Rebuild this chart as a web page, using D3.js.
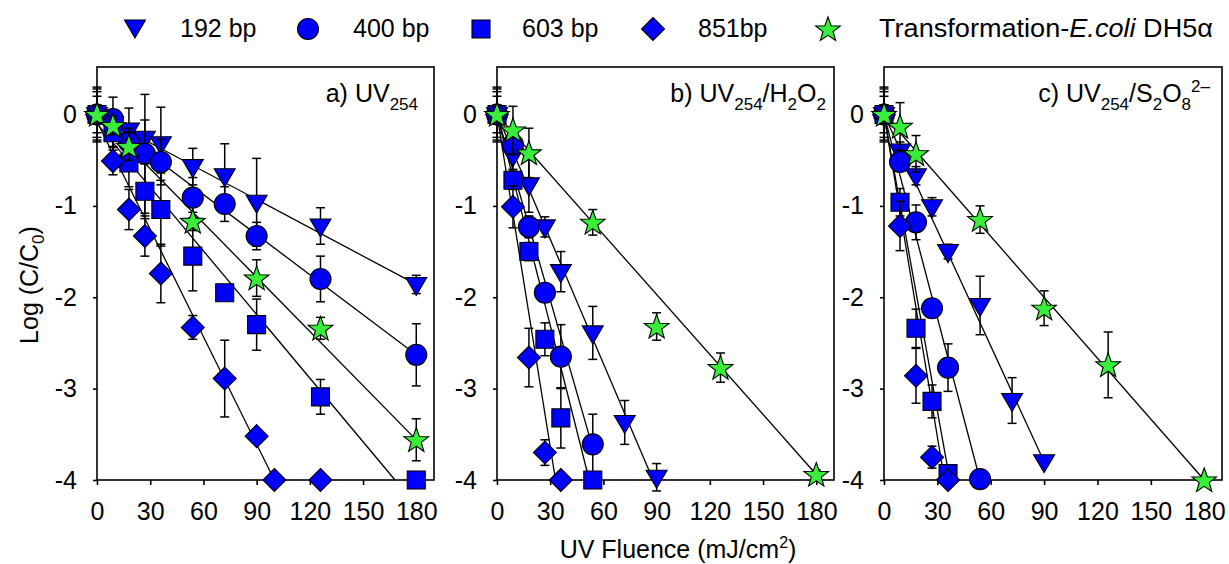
<!DOCTYPE html>
<html>
<head>
<meta charset="utf-8">
<script src="https://cdn.jsdelivr.net/npm/d3@7"></script>
<style>
  html, body { margin: 0; padding: 0; background: #fff; }
  svg { display: block; font-family: "Liberation Sans", Arial, sans-serif; }
</style>
</head>
<body>
<svg id="chart" width="1229" height="564"></svg>
<script>
// ---------------- DATA ----------------
const seriesNames = ["192 bp", "400 bp", "603 bp", "851bp", "Transformation-E.coli DH5α"];
const xTicks = [0, 30, 60, 90, 120, 150, 180];
const yTicks = [0, -1, -2, -3, -4];

// UV fluence (mJ/cm2) at which samples were taken
const fluence = [0, 9, 18, 27, 36, 54, 72, 90, 126, 180];
const fluenceEcoli = [0, 9, 18, 54, 90, 126, 180];
const fluence851a = [0, 9, 18, 27, 36, 54, 72, 90, 100, 126];

// Panel a) UV254 : log(C/C0) and error
const a192 = [0, -0.10, -0.17, -0.26, -0.32, -0.57, -0.67, -0.96, -1.22, -1.86];
const a192err = [0.25, 0.29, 0.24, 0.2, 0.4, 0.2, 0.35, 0.48, 0.2, 0.1];
const a400 = [0, -0.05, -0.30, -0.43, -0.52, -0.91, -0.98, -1.33, -1.80, -2.63];
const a400err = [0.3, 0.1, 0.15, 0.65, 0.25, 0.22, 0.19, 0.15, 0.25, 0.34];
const a603 = [0, -0.20, -0.53, -0.84, -1.04, -1.55, -1.95, -2.30, -3.09, -4.0];
const a603err = [0.2, 0.15, 0.26, 0.3, 0.4, 0.38, 0.05, 0.28, 0.19, 0];
const a851 = [0, -0.51, -1.04, -1.33, -1.74, -2.33, -2.89, -3.52, -4.0, -4.0];
const a851err = [0.28, 0.15, 0.22, 0.22, 0.32, 0.13, 0.42, 0.05, 0, 0];
const aEcoli = [0, -0.12, -0.35, -1.17, -1.79, -2.34, -3.56];
const aEcolierr = [0.1, 0.1, 0.15, 0.1, 0.2, 0.12, 0.23];

// Panel b) UV254/H2O2
const b192 = [0, -0.45, -0.77, -1.23, -1.72, -2.39, -3.37, -3.97];
const b192err = [0.25, 0.15, 0.3, 0.11, 0.22, 0.29, 0.24, 0.15];
const b400 = [0, -0.33, -1.23, -1.95, -2.65, -3.61];
const b400err = [0.3, 0.1, 0.12, 0.1, 0.35, 0.33];
const b603 = [0, -0.72, -1.50, -2.46, -3.32, -4.0];
const b603err = [0.2, 0.1, 0.1, 0.18, 0.33, 0];
const b851 = [0, -1.01, -2.66, -3.70, -4.0];
const b851err = [0.28, 0.23, 0.32, 0.14, 0];
const bEcoli = [0, -0.17, -0.42, -1.18, -2.32, -2.77, -3.94];
const bEcolierr = [0.1, 0.26, 0.27, 0.14, 0.15, 0.16, 0.05];

// Panel c) UV254/S2O8 2-
const c192 = [0, -0.40, -0.67, -1.01, -1.50, -2.09, -3.13, -3.80];
const c192err = [0.25, 0.1, 0.1, 0.1, 0.08, 0.32, 0.25, 0];
const c400 = [0, -0.52, -1.18, -2.12, -2.77, -3.99];
const c400err = [0.3, 0.1, 0.19, 0.05, 0.26, 0];
const c603 = [0, -0.96, -2.34, -3.14, -3.93];
const c603err = [0.2, 0.15, 0.21, 0.18, 0];
const c851 = [0, -1.22, -2.86, -3.75, -4.0];
const c851err = [0.28, 0.27, 0.3, 0.12, 0];
const cEcoli = [0, -0.13, -0.43, -1.15, -2.12, -2.74, -4.0];
const cEcolierr = [0.1, 0.26, 0.2, 0.15, 0.19, 0.36, 0];

// Linear fits (intercept, slope) per series, order: 192, 400, 603, 851, E.coli
const aFitIntercept = [0, 0, -0.10, -0.08, 0];
const aFitSlope = [-0.01033, -0.01461, -0.02321, -0.0392, -0.01978];
const bFitIntercept = [0, 0, 0, 0, 0];
const bFitSlope = [-0.04545, -0.0676, -0.0769, -0.1212, -0.02189];
const cFitIntercept = [0, 0, 0, 0, 0];
const cFitSlope = [-0.04222, -0.0741, -0.1081, -0.1176, -0.02222];

// ---------------- BUILD ----------------
const panels = [
  { key: "a", title: [["a) UV", 0], ["254", 1]],
    x0: 97, x1: 434,
    series: [[fluence, a192, a192err], [fluence, a400, a400err], [fluence, a603, a603err],
             [fluence851a, a851, a851err], [fluenceEcoli, aEcoli, aEcolierr]],
    fitI: aFitIntercept, fitS: aFitSlope, titleRight: 16 },
  { key: "b", title: [["b) UV", 0], ["254", 1], ["/H", 0], ["2", 1], ["O", 0], ["2", 1]],
    x0: 497, x1: 834,
    series: [[fluence, b192, b192err], [fluence, b400, b400err], [fluence, b603, b603err],
             [fluence, b851, b851err], [fluenceEcoli, bEcoli, bEcolierr]],
    fitI: bFitIntercept, fitS: bFitSlope, titleRight: 8 },
  { key: "c", title: [["c) UV", 0], ["254", 1], ["/S", 0], ["2", 1], ["O", 0], ["8", 1], ["2\u2013", 2]],
    x0: 884, x1: 1222,
    series: [[fluence, c192, c192err], [fluence, c400, c400err], [fluence, c603, c603err],
             [fluence, c851, c851err], [fluenceEcoli, cEcoli, cEcolierr]],
    fitI: cFitIntercept, fitS: cFitSlope, titleRight: 12 }
];

const BLUE = "#0000ff", GREEN = "#39ee39";
const fills = [BLUE, BLUE, BLUE, BLUE, GREEN];
const shapes = ["tri", "circle", "square", "diamond", "star"];

function shapePath(t) {
  if (t === "tri") return "M-10.5,-7L10.5,-7L0,11Z";
  if (t === "circle") { const r = 10.5; return `M${-r},0A${r},${r} 0 1,0 ${r},0A${r},${r} 0 1,0 ${-r},0Z`; }
  if (t === "square") return "M-9,-9H9V9H-9Z";
  if (t === "diamond") return "M0,-11.5L11.5,0L0,11.5L-11.5,0Z";
  // star
  const pts = [];
  for (let i = 0; i < 10; i++) {
    const r = i % 2 === 0 ? 13 : 5.3;
    const a = -Math.PI / 2 + i * Math.PI / 5;
    pts.push([r * Math.cos(a), r * Math.sin(a) + 1]);
  }
  return "M" + pts.map(p => p[0].toFixed(2) + "," + p[1].toFixed(2)).join("L") + "Z";
}

const svg = d3.select("#chart");
const TOP = 67, BOTTOM = 480;
const FONT = 25;

panels.forEach(p => {
  const x = d3.scaleLinear().domain([0, 190]).range([p.x0, p.x1]);
  const y = d3.scaleLinear().domain([-4, 0.52]).range([BOTTOM, TOP]);
  const g = svg.append("g");

  // frame
  g.append("rect").attr("x", p.x0).attr("y", TOP)
    .attr("width", p.x1 - p.x0).attr("height", BOTTOM - TOP)
    .attr("fill", "none").attr("stroke", "#000").attr("stroke-width", 1.6);

  // axes
  const xa = g.append("g").attr("transform", `translate(0,${BOTTOM})`)
    .call(d3.axisBottom(x).tickValues(xTicks).tickSize(5).tickSizeOuter(0).tickPadding(17).tickFormat(d => String(d)));
  const ya = g.append("g").attr("transform", `translate(${p.x0},0)`)
    .call(d3.axisLeft(y).tickValues(yTicks).tickSize(4).tickSizeOuter(0).tickPadding(16).tickFormat(d => String(d)));
  [xa, ya].forEach(a => {
    a.select(".domain").remove();
    a.selectAll("line").attr("stroke", "#000").attr("stroke-width", 1.6);
    a.selectAll("text").attr("font-size", FONT).attr("fill", "#000")
      .attr("font-family", '"Liberation Sans", Arial, sans-serif');
  });

  // fit lines
  p.series.forEach((s, i) => {
    const xs = s[0], vals = s[1];
    const lastX = xs[vals.length - 1];
    const b = p.fitI[i], k = p.fitS[i];
    const xHit = (-4 - b) / k;
    const xEnd = Math.min(lastX, xHit);
    const line = d3.line().x(d => x(d[0])).y(d => y(d[1]));
    g.append("path").datum([[0, b], [xEnd, b + k * xEnd]])
      .attr("d", line).attr("fill", "none").attr("stroke", "#000").attr("stroke-width", 1.3);
  });

  // error bars and markers
  p.series.forEach((s, i) => {
    const xs = s[0], vals = s[1], errs = s[2];
    const pts = vals.map((v, j) => ({ f: xs[j], v: v, e: errs[j] }));
    const eb = g.append("g").attr("stroke", "#000").attr("stroke-width", 1.5);
    pts.filter(d => d.e > 0).forEach(d => {
      const cx = x(d.f), yt = y(d.v + d.e), yb = y(d.v - d.e);
      eb.append("line").attr("x1", cx).attr("x2", cx).attr("y1", yt).attr("y2", yb);
      eb.append("line").attr("x1", cx - 4.5).attr("x2", cx + 4.5).attr("y1", yt).attr("y2", yt);
      eb.append("line").attr("x1", cx - 4.5).attr("x2", cx + 4.5).attr("y1", yb).attr("y2", yb);
    });
    g.append("g").selectAll("path").data(pts).join("path")
      .attr("d", shapePath(shapes[i]))
      .attr("transform", d => `translate(${x(d.f)},${y(d.v)})`)
      .attr("fill", fills[i]).attr("stroke", "#000").attr("stroke-width", 1.1);
  });

  // panel title
  const t = g.append("text").attr("x", p.x1 - p.titleRight).attr("y", 102)
    .attr("text-anchor", "end").attr("font-size", 25).attr("fill", "#000");
  let state = 0;
  p.title.forEach(([txt, kind]) => {
    const ts = t.append("tspan").text(txt);
    let dy = 0;
    if (kind === 1) { ts.attr("font-size", 17); dy = (state === 1 ? 0 : (state === 2 ? 18 : 8)); state = 1; }
    else if (kind === 2) { ts.attr("font-size", 17); dy = (state === 1 ? -18 : -10); state = 2; }
    else { dy = (state === 1 ? -8 : (state === 2 ? 10 : 0)); state = 0; }
    if (dy !== 0) ts.attr("dy", dy);
  });
});

// axis titles
svg.append("text").attr("transform", "translate(38,285) rotate(-90)")
  .attr("text-anchor", "middle").attr("font-size", FONT).attr("fill", "#000")
  .call(t => {
    t.append("tspan").text("Log (C/C");
    t.append("tspan").text("0").attr("font-size", 17).attr("dy", 6);
    t.append("tspan").text(")").attr("dy", -6);
  });
svg.append("text").attr("x", 678).attr("y", 558)
  .attr("text-anchor", "middle").attr("font-size", FONT).attr("fill", "#000")
  .call(t => {
    t.append("tspan").text("UV Fluence (mJ/cm");
    t.append("tspan").text("2").attr("font-size", 16).attr("dy", -10);
    t.append("tspan").text(")").attr("dy", 10);
  });

// legend
const legendX = [135, 308, 481, 653, 828];
const legendGap = [45, 45, 41, 45, 51];
const lg = svg.append("g");
seriesNames.forEach((name, i) => {
  lg.append("path").attr("d", shapePath(shapes[i]))
    .attr("transform", `translate(${legendX[i]},${i === 0 ? 27 : 29})`)
    .attr("fill", fills[i]).attr("stroke", "#000").attr("stroke-width", 1.1);
  const t = lg.append("text").attr("x", legendX[i] + legendGap[i]).attr("y", 37)
    .attr("font-size", FONT).attr("fill", "#000");
  if (name.indexOf("E.coli") >= 0) {
    const parts = name.split("E.coli");
    t.attr("textLength", 334).attr("lengthAdjust", "spacingAndGlyphs");
    t.append("tspan").text(parts[0]);
    t.append("tspan").text("E.coli").attr("font-style", "italic");
    t.append("tspan").text(parts[1]);
  } else {
    t.text(name);
  }
});
</script>
</body>
</html>
